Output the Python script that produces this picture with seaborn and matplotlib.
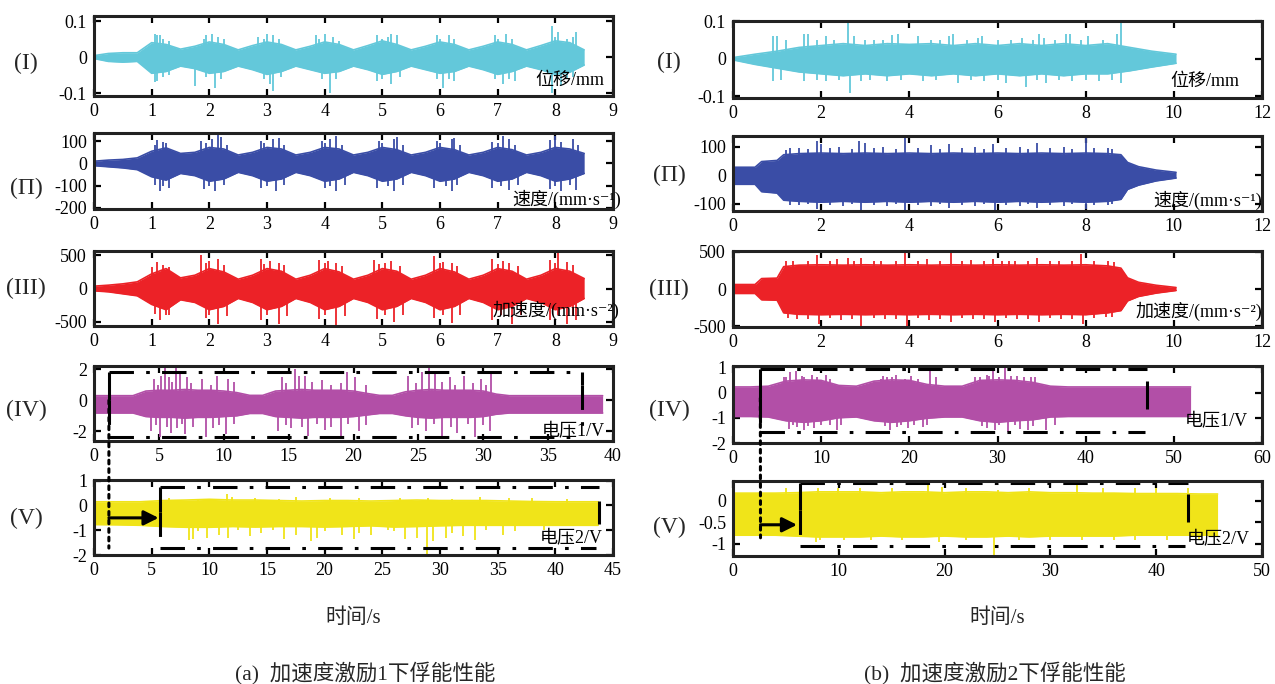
import pandas as pd
import matplotlib
matplotlib.use('Agg')
import matplotlib.pyplot as plt
from matplotlib.patches import ConnectionPatch
import seaborn as sns

sns.set_theme(style='ticks')
plt.rcParams['font.family'] = ['Liberation Serif', 'Noto Sans CJK SC', 'DejaVu Serif', 'DejaVu Sans']
plt.rcParams['axes.unicode_minus'] = False

# colours of the five signals
c_disp = '#63C8DA'
c_vel = '#3A4DA6'
c_acc = '#EC2227'
c_v1 = '#B24FA7'
c_v2 = '#F0E419'

row_names = ['(I)', '(Π)', '(III)', '(IV)', '(V)']
units = ['位移/mm', '速度/(mm·s⁻¹)', '加速度/(mm·s⁻²)', '电压1/V', '电压2/V']

# ---------------- (a) excitation 1 ----------------
t_a = [0, 0.25, 0.5, 0.75, 1.0, 1.25, 1.5, 1.75, 2.0, 2.25, 2.5, 2.75, 3.0, 3.25, 3.5, 3.75, 4.0, 4.25,
       4.5, 4.75, 5.0, 5.25, 5.5, 5.75, 6.0, 6.25, 6.5, 6.75, 7.0, 7.25, 7.5, 7.75, 8.0, 8.25, 8.5]
disp_a_hi = [0.004, 0.010, 0.012, 0.012, 0.040, 0.035, 0.022, 0.030, 0.042, 0.035, 0.020, 0.032,
             0.042, 0.035, 0.020, 0.030, 0.042, 0.035, 0.020, 0.032, 0.045, 0.035, 0.020, 0.030,
             0.042, 0.035, 0.020, 0.030, 0.042, 0.035, 0.020, 0.032, 0.045, 0.040, 0.020]
disp_a_lo = [-0.004, -0.012, -0.014, -0.012, -0.045, -0.040, -0.025, -0.032, -0.045, -0.040, -0.025, -0.035,
             -0.048, -0.040, -0.025, -0.035, -0.045, -0.040, -0.025, -0.035, -0.048, -0.040, -0.025, -0.035,
             -0.045, -0.040, -0.025, -0.035, -0.048, -0.040, -0.025, -0.035, -0.048, -0.042, -0.022]
disp_a_spk_t = [1.05, 1.1, 1.15, 1.05, 1.1, 1.75, 1.95, 2.05, 2.1, 2.85, 3.0, 3.1, 3.05, 3.1, 3.85, 4.0,
                4.1, 4.9, 5.15, 5.25, 4.9, 5.15, 5.95, 6.15, 6.05, 6.25, 6.95, 7.15, 7.1, 7.3, 7.95,
                8.05, 8.35, 7.95, 8.1,
                1.2, 1.3, 1.9, 2.15, 2.25, 2.95, 3.2, 3.9, 4.15, 4.25, 5.0, 5.1, 6.0, 6.25, 7.0, 7.25,
                8.0, 8.2, 8.3,
                1.2, 1.3, 1.95, 2.2, 2.95, 3.25, 3.95, 4.2, 5.0, 5.3, 5.95, 6.15, 6.95, 7.2, 8.2, 8.3]
disp_a_spk_v = [0.065, 0.06, 0.06, -0.07, -0.065, -0.08, 0.06, 0.065, -0.085, 0.055, 0.065, 0.06, -0.075,
                -0.095, 0.06, 0.065, -0.1, 0.06, 0.065, 0.06, -0.065, -0.075, 0.06, 0.06, -0.085, -0.065,
                0.06, 0.065, -0.075, -0.065, 0.085, 0.07, 0.07, -0.1, -0.08,
                0.05, 0.045, 0.05, 0.055, 0.05, 0.05, 0.05, 0.05, 0.055, 0.045, 0.05, 0.055, 0.05, 0.05,
                0.05, 0.05, 0.055, 0.05, 0.055,
                -0.055, -0.05, -0.055, -0.06, -0.06, -0.055, -0.06, -0.06, -0.06, -0.055, -0.06, -0.06,
                -0.06, -0.06, -0.06, -0.055]

vel_a_hi = [10, 15, 18, 25, 55, 70, 45, 50, 72, 65, 38, 50, 72, 65, 38, 50, 72, 65, 38, 50,
            72, 62, 38, 50, 72, 62, 38, 50, 72, 62, 38, 50, 72, 65, 45]
vel_a_lo = [-10, -15, -20, -28, -60, -75, -45, -55, -80, -70, -40, -55, -80, -70, -40, -55, -80, -70,
            -40, -55, -80, -70, -40, -55, -80, -70, -40, -55, -80, -70, -40, -55, -80, -70, -45]
vel_a_spk_t = [1.1, 1.2, 1.85, 2.05, 2.15, 2.2, 2.9, 3.1, 3.2, 3.95, 4.1, 4.2, 4.95, 5.2, 5.25, 5.95,
               6.2, 6.25, 6.9, 7.1, 7.2, 7.9, 8.0, 8.3,
               1.15, 1.3, 1.9, 2.1, 2.9, 3.15, 4.0, 4.2, 4.9, 5.2, 5.9, 6.2, 6.9, 7.2, 7.9, 8.1, 8.35,
               1.05, 1.25, 1.95, 2.3, 2.95, 3.3, 4.0, 4.3, 5.0, 5.35, 6.0, 6.35, 7.0, 7.3, 8.1, 8.4,
               1.05, 1.2, 2.0, 2.25, 3.0, 3.3, 4.1, 4.35, 5.1, 5.35, 6.1, 6.3, 7.05, 7.35, 8.0, 8.25]
vel_a_spk_v = [105, 95, 100, 110, 130, 120, 100, 110, 115, 100, 110, 125, 100, 110, 120, 100,
               110, 115, 95, 125, 110, 105, 125, 110,
               -125, -110, -115, -125, -110, -125, -110, -125, -110, -125, -110, -125, -110, -120,
               -115, -125, -120,
               85, 90, 90, 85, 90, 85, 90, 85, 90, 85, 90, 85, 90, 85, 95, 85,
               -95, -100, -100, -95, -100, -95, -100, -95, -100, -95, -100, -95, -100, -95, -100, -95]

acc_a_hi = [35, 50, 70, 100, 220, 300, 160, 200, 300, 250, 140, 200, 300, 260, 140, 200, 300, 250,
            140, 200, 300, 260, 140, 200, 300, 250, 140, 200, 300, 260, 140, 200, 300, 260, 150]
acc_a_lo = [-35, -50, -80, -110, -240, -320, -170, -210, -320, -270, -150, -210, -320, -270, -150, -210,
            -320, -270, -150, -210, -320, -270, -150, -210, -320, -270, -150, -210, -320, -270, -150,
            -210, -320, -270, -150]
acc_a_spk_t = [1.1, 1.3, 1.85, 2.0, 2.15, 2.9, 3.05, 3.2, 3.9, 4.05, 4.2, 4.85, 5.05, 5.15, 5.9, 6.05,
               6.2, 6.9, 7.1, 7.2, 7.9, 8.05, 8.2,
               1.15, 1.3, 1.95, 2.15, 2.9, 3.2, 3.9, 4.2, 4.9, 5.2, 5.9, 6.2, 6.9, 7.25, 7.9, 8.2, 8.35,
               1.0, 1.2, 1.95, 2.25, 2.95, 3.3, 4.0, 4.3, 4.95, 5.3, 6.0, 6.3, 7.0, 7.35, 8.0, 8.3,
               1.05, 1.25, 2.0, 2.3, 3.0, 3.35, 4.0, 4.35, 5.05, 5.35, 6.05, 6.35, 7.05, 7.4, 8.05, 8.3]
acc_a_spk_v = [400, 330, 500, 420, 450, 450, 420, 380, 430, 420, 380, 430, 380, 420, 490, 400,
               380, 440, 420, 390, 430, 540, 400,
               -470, -400, -450, -540, -470, -540, -460, -560, -460, -500, -450, -520, -470, -540,
               -470, -540, -470,
               330, 350, 380, 360, 370, 350, 380, 340, 370, 340, 380, 340, 370, 340, 380, 350,
               -380, -400, -400, -420, -400, -420, -400, -420, -400, -400, -400, -400, -400, -400,
               -400, -400]

t_v1a = [0, 1, 2, 3, 4, 5, 6, 7, 8, 9, 10, 11, 12, 13, 14, 15, 16, 17, 18, 19, 20, 21, 22, 23, 24,
         25, 26, 27, 28, 29, 30, 31, 32, 33, 34, 35, 36, 37, 38, 39.2]
v1_a_hi = [0.3, 0.3, 0.3, 0.3, 0.6, 0.65, 0.65, 0.7, 0.65, 0.65, 0.6, 0.5, 0.32, 0.32, 0.6, 0.65,
           0.7, 0.65, 0.65, 0.65, 0.6, 0.45, 0.32, 0.32, 0.55, 0.65, 0.7, 0.65, 0.65, 0.65, 0.6, 0.4,
           0.3, 0.3, 0.3, 0.3, 0.3, 0.3, 0.3, 0.3]
v1_a_lo = [-0.82, -0.82, -0.82, -0.82, -1.05, -1.1, -1.1, -1.15, -1.1, -1.1, -1.05, -1.0, -0.85, -0.85,
           -1.05, -1.1, -1.15, -1.1, -1.1, -1.1, -1.05, -0.95, -0.85, -0.85, -1.0, -1.1, -1.15, -1.1,
           -1.1, -1.1, -1.05, -0.9, -0.82, -0.82, -0.82, -0.82, -0.82, -0.82, -0.82, -0.82]
v1_a_spk_t = [4.6, 5.2, 5.5, 5.8, 6.3, 6.6, 7.2, 8.3, 9.5, 10.3, 14.5, 15.5, 15.8, 16.3, 17.6, 19.5,
              20.1, 24.2, 25.3, 25.8, 26.3, 27.4, 28.5, 29.8, 30.6,
              4.4, 5.1, 5.9, 6.4, 7.0, 8.6, 9.2, 10.2, 14.2, 15.2, 16.5, 17.8, 19.0, 20.4, 24.5, 25.6,
              26.8, 28.0, 29.4, 30.5,
              4.9, 6.0, 7.5, 9.0, 10.8, 14.8, 16.8, 18.3, 19.0, 21.0, 24.8, 26.8, 27.8, 29.2, 30.2,
              4.8, 5.6, 6.8, 7.6, 9.6, 10.8, 14.8, 16.0, 17.2, 18.3, 19.6, 21.0, 25.0, 26.2, 27.5,
              28.8, 30.0]
v1_a_spk_v = [1.4, 1.6, 2.1, 1.5, 2.1, 1.8, 1.5, 1.4, 1.6, 1.4, 1.5, 2.0, 1.6, 1.6, 1.3, 1.8,
              1.5, 1.6, 1.8, 2.2, 1.8, 1.5, 1.6, 1.4, 1.7,
              -2.0, -2.4, -2.1, -1.8, -2.2, -2.4, -1.8, -2.2, -2.0, -1.8, -2.3, -1.9, -2.4, -2.0, -1.8,
              -2.0, -2.4, -2.1, -2.4, -2.0,
              1.0, 1.2, 1.1, 1.0, 1.2, 1.1, 1.2, 1.0, 1.1, 1.0, 1.1, 1.2, 1.0, 1.1, 1.0,
              -1.6, -1.7, -1.5, -1.7, -1.6, -1.5, -1.6, -1.7, -1.5, -1.7, -1.5, -1.6, -1.6, -1.5, -1.7,
              -1.5, -1.6]

t_v2a = [0, 2, 4, 6, 8, 10, 12, 14, 16, 18, 20, 22, 24, 26, 28, 30, 32, 34, 36, 38, 40, 42, 43.7]
v2_a_hi = [0.15, 0.15, 0.15, 0.2, 0.22, 0.25, 0.22, 0.22, 0.2, 0.18, 0.2, 0.2, 0.18, 0.2, 0.22, 0.2,
           0.2, 0.2, 0.18, 0.16, 0.15, 0.15, 0.15]
v2_a_lo = [-0.77, -0.78, -0.8, -0.85, -0.88, -0.88, -0.85, -0.87, -0.85, -0.85, -0.87, -0.85, -0.82,
           -0.87, -0.85, -0.82, -0.8, -0.8, -0.8, -0.8, -0.8, -0.8, -0.8]
v2_a_spk_t = [8.2, 8.6, 9.8, 10.8, 11.6, 13.5, 16.5, 17.5, 18.8, 19.3, 21.5, 22.5, 24.0, 27.0, 28.0,
              28.9, 29.4, 30.5, 32.0, 33.0, 35.5,
              11.5, 12.0, 17.5, 20.5, 26.5, 29.0, 33.5, 38.0,
              9.0, 12.5, 14.5, 15.5, 20.0, 23.0, 25.5, 26.0, 31.0, 34.0, 36.5, 39.0,
              6.5, 9.0, 14.0, 16.0, 23.0, 31.0, 36.0, 41.0]
v2_a_spk_v = [-1.4, -1.35, -1.3, -1.2, -1.3, -1.25, -1.35, -1.2, -1.45, -1.3, -1.2, -1.35, -1.2, -1.35,
              -1.3, -1.95, -1.45, -1.3, -1.25, -1.4, -1.2,
              0.45, 0.35, 0.35, 0.3, 0.3, 0.32, 0.35, 0.3,
              -1.05, -1.0, -1.1, -1.0, -1.05, -1.1, -1.0, -1.05, -1.1, -1.0, -1.05, -1.0,
              0.3, 0.28, 0.3, 0.28, 0.3, 0.28, 0.3, 0.28]

# ---------------- (b) excitation 2 ----------------
t_b1 = [0, 0.5, 1, 1.5, 2, 2.5, 3, 3.5, 4, 4.5, 5, 5.5, 6, 6.5, 7, 7.5, 8, 8.5, 9, 9.5, 10.05]
disp_b_hi = [0.003, 0.012, 0.02, 0.03, 0.035, 0.04, 0.035, 0.04, 0.038, 0.04, 0.035, 0.04, 0.035,
             0.04, 0.035, 0.04, 0.035, 0.04, 0.03, 0.02, 0.012]
disp_b_lo = [-0.003, -0.015, -0.025, -0.035, -0.04, -0.045, -0.04, -0.045, -0.04, -0.045, -0.04,
             -0.045, -0.04, -0.045, -0.04, -0.045, -0.04, -0.04, -0.032, -0.022, -0.012]
disp_b_spk_t = [0.9, 1.0, 1.6, 1.7, 2.1, 2.6, 2.75, 3.0, 3.6, 3.75, 4.2, 4.9, 5.0, 5.55, 5.65, 6.0,
                6.55, 6.95, 7.05, 7.55, 7.65, 8.05, 8.7, 8.8,
                0.9, 1.6, 2.1, 2.65, 2.9, 3.5, 4.3, 5.1, 5.7, 6.2, 6.65, 7.1, 7.7, 8.3, 8.8,
                1.2, 1.9, 2.3, 3.2, 3.4, 4.5, 4.7, 5.3, 6.3, 6.8, 7.3, 7.9, 8.4,
                1.1, 1.9, 2.4, 3.1, 3.8, 4.6, 5.4, 6.0, 6.9, 7.4, 8.0, 8.6]
disp_b_spk_v = [0.06, 0.06, 0.065, 0.065, 0.06, 0.095, 0.06, 0.05, 0.062, 0.065, 0.06, 0.06, 0.065,
                0.055, 0.06, 0.05, 0.055, 0.065, 0.055, 0.065, 0.065, 0.06, 0.065, 0.1,
                -0.06, -0.06, -0.06, -0.09, -0.06, -0.06, -0.06, -0.065, -0.06, -0.065, -0.075, -0.065,
                -0.06, -0.06, -0.065,
                0.05, 0.05, 0.05, 0.05, 0.05, 0.05, 0.05, 0.05, 0.05, 0.05, 0.05, 0.05, 0.05,
                -0.055, -0.055, -0.055, -0.055, -0.055, -0.055, -0.055, -0.055, -0.055, -0.055, -0.055,
                -0.055]

t_b2 = [0, 0.5, 0.65, 1.0, 1.15, 1.5, 2, 2.5, 3, 3.5, 4, 4.5, 5, 5.5, 6, 6.5, 7, 7.5, 8, 8.5, 8.8,
        8.95, 9.2, 9.6, 10.05]
vel_b_hi = [28, 28, 48, 52, 72, 76, 78, 76, 78, 76, 78, 76, 78, 76, 78, 76, 78, 76, 78, 76, 72, 45,
            30, 18, 10]
vel_b_lo = [-32, -32, -58, -63, -88, -92, -95, -92, -95, -92, -95, -92, -95, -92, -95, -92, -95, -92,
            -95, -92, -85, -50, -35, -20, -10]
vel_b_spk_t = [1.9, 2.85, 3.9, 4.9, 5.9, 6.9, 8.0, 1.5, 2.4, 3.4, 4.5, 5.5, 6.5, 7.5, 8.5, 1.2, 2.0,
               3.0,
               1.9, 2.9, 3.9, 4.9, 5.95, 6.9, 8.0, 1.5, 2.5, 3.5, 4.5, 5.5, 6.5, 7.5, 8.5,
               1.3, 1.7, 2.2, 2.7, 3.2, 3.7, 4.2, 4.7, 5.2, 5.7, 6.2, 6.7, 7.2, 7.7, 8.2, 8.6,
               1.3, 1.7, 2.2, 2.7, 3.2, 3.7, 4.2, 4.7, 5.2, 5.7, 6.2, 6.7, 7.2, 7.7, 8.2, 8.6]
vel_b_spk_v = [120, 120, 130, 110, 110, 115, 130, 95, 100, 100, 105, 100, 100, 100, 95, 90, 110, 115,
               -120, -125, -125, -115, -125, -115, -120, -105, -110, -110, -110, -110, -110, -110,
               -105,
               95, 92, 95, 92, 95, 92, 95, 92, 95, 92, 95, 92, 95, 92, 95, 92,
               -105, -102, -105, -102, -105, -102, -105, -102, -105, -102, -105, -102, -105, -102,
               -105, -102]

acc_b_hi = [60, 60, 140, 146, 300, 320, 325, 320, 325, 320, 325, 320, 325, 320, 325, 320, 325, 320,
            325, 310, 280, 150, 90, 50, 20]
acc_b_lo = [-60, -60, -145, -150, -320, -340, -345, -340, -345, -340, -345, -340, -345, -340, -345,
            -340, -345, -340, -345, -320, -290, -160, -100, -55, -20]
acc_b_spk_t = [1.9, 2.9, 3.9, 4.95, 5.9, 6.9, 7.9, 1.35, 2.35, 3.35, 4.4, 5.4, 6.4, 7.4, 8.5, 2.6, 6.1,
               1.95, 2.9, 3.95, 4.95, 5.95, 6.95, 7.95, 1.45, 2.45, 3.45, 4.45, 5.45, 6.45, 7.45, 8.45,
               1.2, 1.7, 2.2, 2.75, 3.2, 3.7, 4.2, 4.7, 5.2, 5.7, 6.25, 6.7, 7.2, 7.7, 8.2, 8.65,
               1.25, 1.7, 2.2, 2.7, 3.2, 3.7, 4.2, 4.7, 5.2, 5.7, 6.2, 6.7, 7.2, 7.7, 8.2, 8.6]
acc_b_spk_v = [460, 410, 480, 480, 400, 420, 470, 380, 400, 380, 400, 390, 380, 380, 370, 420, 380,
               -470, -490, -500, -440, -440, -440, -470, -400, -420, -400, -420, -400, -400, -400, -380,
               370, 380, 370, 380, 370, 380, 370, 380, 370, 380, 370, 380, 370, 380, 370, 360,
               -390, -400, -390, -400, -390, -400, -390, -400, -390, -400, -390, -400, -390, -400, -390,
               -380]

t_v1b = [0, 2, 4, 6, 8, 10, 12, 14, 16, 18, 20, 22, 24, 26, 28, 30, 32, 34, 36, 38, 40, 42, 44, 46,
         48, 50, 51.9]
v1_b_hi = [0.22, 0.22, 0.25, 0.45, 0.5, 0.48, 0.28, 0.25, 0.45, 0.5, 0.48, 0.32, 0.25, 0.25, 0.48,
           0.5, 0.48, 0.4, 0.25, 0.22, 0.22, 0.22, 0.22, 0.22, 0.22, 0.22, 0.22]
v1_b_lo = [-0.95, -0.95, -0.97, -1.12, -1.18, -1.12, -1.0, -0.97, -1.12, -1.18, -1.12, -1.02, -0.97,
           -0.97, -1.12, -1.18, -1.12, -1.08, -0.97, -0.95, -0.95, -0.95, -0.95, -0.95, -0.95, -0.95,
           -0.95]
v1_b_spk_t = [5.8, 6.5, 7.2, 8.1, 9.0, 10.5, 16.8, 17.5, 18.5, 19.5, 22.3, 23.0, 28.0, 28.8, 29.5,
              30.8, 31.5, 33.0, 34.2,
              6.4, 7.3, 8.0, 9.2, 11.8, 12.3, 17.8, 18.6, 19.8, 21.5, 28.8, 29.7, 31.2, 32.5, 33.5,
              35.5,
              6.0, 7.8, 9.5, 11.0, 17.0, 18.0, 20.2, 21.0, 27.5, 29.0, 30.2, 32.2, 33.8,
              6.8, 8.5, 10.0, 11.0, 17.2, 19.0, 20.5, 22.0, 28.2, 30.2, 32.0, 34.0, 36.5]
v1_b_spk_v = [0.6, 0.8, 0.85, 0.6, 0.7, 0.7, 0.55, 0.6, 0.7, 0.55, 1.05, 0.6, 0.6, 0.7, 0.85, 1.05,
              0.65, 0.6, 0.6,
              -1.45, -1.35, -1.5, -1.4, -1.5, -1.3, -1.5, -1.35, -1.4, -1.35, -1.4, -1.5, -1.55, -1.45,
              -1.5, -1.5,
              0.6, 0.65, 0.6, 0.55, 0.65, 0.6, 0.65, 0.55, 0.6, 0.65, 0.6, 0.65, 0.6,
              -1.3, -1.32, -1.28, -1.3, -1.32, -1.28, -1.3, -1.28, -1.32, -1.3, -1.28, -1.32, -1.28]

t_v2b = [0, 2, 4, 6, 8, 10, 12, 14, 16, 18, 20, 22, 24, 26, 28, 30, 32, 34, 36, 38, 40, 42, 44, 45.8]
v2_b_hi = [0.17, 0.17, 0.17, 0.18, 0.2, 0.2, 0.2, 0.18, 0.2, 0.2, 0.18, 0.2, 0.2, 0.18, 0.2, 0.18,
           0.18, 0.17, 0.17, 0.16, 0.16, 0.16, 0.15, 0.15]
v2_b_lo = [-0.8, -0.8, -0.8, -0.82, -0.84, -0.84, -0.84, -0.82, -0.84, -0.84, -0.82, -0.84, -0.84,
           -0.82, -0.84, -0.82, -0.82, -0.82, -0.82, -0.8, -0.8, -0.8, -0.8, -0.8]
v2_b_spk_t = [9.9, 12.0, 18.4, 19.8, 25.0, 32.5, 40.0,
              7.8, 8.2, 19.5, 24.7, 30.0, 36.0, 41.0,
              5.0, 8.0, 15.0, 22.0, 28.0, 35.0, 38.0, 43.0,
              10.5, 13.0, 16.0, 22.0, 27.0, 33.0, 38.0, 44.0]
v2_b_spk_v = [0.3, 0.3, 0.4, 0.32, 0.25, 0.48, 0.28,
              -0.95, -0.92, -0.95, -1.25, -0.92, -0.92, -0.9,
              0.28, 0.28, 0.28, 0.28, 0.28, 0.28, 0.28, 0.28,
              -0.92, -0.92, -0.92, -0.92, -0.92, -0.92, -0.92, -0.92]

# axis ranges / ticks
xt_a = [list(range(0, 10)), list(range(0, 10)), list(range(0, 10)), list(range(0, 45, 5)), list(range(0, 50, 5))]
xl_a = [(0, 9), (0, 9), (0, 9), (0, 40), (0, 45)]
yt_a = [[-0.1, 0, 0.1], [-200, -100, 0, 100], [-500, 0, 500], [-2, 0, 2], [-2, -1, 0, 1]]
ylab_a = [['-0.1', '0', '0.1'], ['-200', '-100', '0', '100'], ['-500', '0', '500'], ['-2', '0', '2'],
          ['-2', '-1', '0', '1']]
yl_a = [(-0.108, 0.114), (-205, 137), (-565, 565), (-2.63, 2.22), (-2.0, 1.03)]

xt_b = [list(range(0, 14, 2)), list(range(0, 14, 2)), list(range(0, 14, 2)), list(range(0, 70, 10)),
        list(range(0, 60, 10))]
xl_b = [(0, 12), (0, 12), (0, 12), (0, 60), (0, 50)]
yt_b = [[-0.1, 0, 0.1], [-100, 0, 100], [-500, 0, 500], [-2, -1, 0, 1], [-1, -0.5, 0]]
ylab_b = [['-0.1', '0', '0.1'], ['-100', '0', '100'], ['-500', '0', '500'], ['-2', '-1', '0', '1'],
          ['-1', '-0.5', '0']]
yl_b = [(-0.104, 0.1), (-126, 138), (-510, 510), (-2.0, 1.05), (-1.28, 0.45)]

W, H = 1275, 684
fig = plt.figure(figsize=(W / 100, H / 100), dpi=100)


def make_ax(l, r, t, b):
    return fig.add_axes([l / W, 1 - b / H, (r - l) / W, (b - t) / H])


def draw_signal(ax, t, hi, lo, spk_t, spk_v, color):
    df = pd.DataFrame({'t': t, 'hi': hi, 'lo': lo})
    ax.fill_between(df['t'], df['lo'], df['hi'], color=color, lw=0)
    sns.lineplot(data=df, x='t', y='hi', ax=ax, color=color, lw=1.2)
    sns.lineplot(data=df, x='t', y='lo', ax=ax, color=color, lw=1.2)
    ax.vlines(spk_t, 0, spk_v, color=color, lw=1.3)
    ax.set(xlabel='', ylabel='')


def style_ax(ax, xl, xt, yl, yt, ylab):
    ax.set_xlim(xl)
    ax.set_ylim(yl)
    ax.set_xticks(xt)
    ax.set_xticklabels([str(v) for v in xt])
    ax.set_yticks(yt)
    ax.set_yticklabels(ylab)
    ax.tick_params(direction='in', top=True, right=True, length=5, width=1.6,
                   labelsize=13, pad=5, colors='black')
    for s in ax.spines.values():
        s.set_linewidth(2.2)
        s.set_color('#222222')


rows_a = [(16, 96), (133, 209), (251, 326), (366, 441), (480, 555)]
rows_b = [(21, 98), (136, 211), (251, 327), (366, 443), (481, 556)]
lab_y_a = [63, 188, 288, 410, 518]
lab_y_b = [62, 175, 289, 410, 527]
unit_pos_a = [(0.984, 0.2), (1.016, 0.12), (1.012, 0.21), (0.985, 0.12), (0.98, 0.22)]
unit_pos_b = [(0.957, 0.21), (1.0, 0.14), (1.0, 0.2), (0.973, 0.27), (0.977, 0.22)]

sig_a = [(t_a, disp_a_hi, disp_a_lo, disp_a_spk_t, disp_a_spk_v, c_disp),
         (t_a, vel_a_hi, vel_a_lo, vel_a_spk_t, vel_a_spk_v, c_vel),
         (t_a, acc_a_hi, acc_a_lo, acc_a_spk_t, acc_a_spk_v, c_acc),
         (t_v1a, v1_a_hi, v1_a_lo, v1_a_spk_t, v1_a_spk_v, c_v1),
         (t_v2a, v2_a_hi, v2_a_lo, v2_a_spk_t, v2_a_spk_v, c_v2)]
sig_b = [(t_b1, disp_b_hi, disp_b_lo, disp_b_spk_t, disp_b_spk_v, c_disp),
         (t_b2, vel_b_hi, vel_b_lo, vel_b_spk_t, vel_b_spk_v, c_vel),
         (t_b2, acc_b_hi, acc_b_lo, acc_b_spk_t, acc_b_spk_v, c_acc),
         (t_v1b, v1_b_hi, v1_b_lo, v1_b_spk_t, v1_b_spk_v, c_v1),
         (t_v2b, v2_b_hi, v2_b_lo, v2_b_spk_t, v2_b_spk_v, c_v2)]

axes_a, axes_b = [], []
for col, (l, r, rows, sigs, xls, xts, yls, yts, ylabs, laby, ups, labx) in enumerate([
        (94, 613, rows_a, sig_a, xl_a, xt_a, yl_a, yt_a, ylab_a, lab_y_a, unit_pos_a, 26),
        (733, 1262, rows_b, sig_b, xl_b, xt_b, yl_b, yt_b, ylab_b, lab_y_b, unit_pos_b, 669)]):
    for i in range(5):
        ax = make_ax(l, r, rows[i][0], rows[i][1])
        draw_signal(ax, *sigs[i])
        style_ax(ax, xls[i], xts[i], yls[i], yts[i], ylabs[i])
        ax.text(ups[i][0], ups[i][1], units[i], transform=ax.transAxes, ha='right', va='center',
                fontsize=13, color='black')
        fig.text(labx / W, 1 - laby[i] / H, row_names[i], ha='center', va='center', fontsize=17)
        (axes_a if col == 0 else axes_b).append(ax)

# dash-dot frames, arrows and dotted guides
dashdot = (0, (8, 4, 1.2, 4))
dot = (0, (1.2, 1.6))
kw = dict(color='black', lw=2.2, solid_capstyle='butt')


def frame(ax, x0, x1, y0, y1, solid_y, right_y):
    ax.plot([x0, x1], [y1, y1], ls=dashdot, **kw)
    ax.plot([x0, x1 - 0.3], [y0, y0], ls=dashdot, **kw)
    ax.plot([x0, x0], [y1, solid_y], ls='-', **kw)
    ax.plot([x0, x0], [solid_y, y0], ls=dashdot, **kw)
    ax.plot([x1, x1], right_y, ls='-', **kw)


frame(axes_a[3], 1.15, 37.6, -2.37, 1.8, 0.0, [1.8, 1.0])
axes_a[3].plot([37.6, 37.6], [1.0, -2.37], ls=dashdot, **kw)
frame(axes_a[4], 5.72, 43.8, -1.72, 0.75, -0.28, [0.2, -0.75])
frame(axes_b[3], 3.1, 47.0, -1.56, 0.93, -0.22, [0.45, -0.65])
frame(axes_b[4], 6.33, 43.0, -1.06, 0.4, -0.22, [0.15, -0.5])

for ax_up, ax_dn, p_up, p_dn, y_arrow, x_head in [
        (axes_a[3], axes_a[4], (1.15, 0.0), (1.29, -1.72), -0.5, 5.6),
        (axes_b[3], axes_b[4], (3.1, -0.22), (2.6, -0.86), -0.56, 6.05)]:
    con = ConnectionPatch(xyA=p_up, coordsA=ax_up.transData, xyB=p_dn, coordsB=ax_dn.transData,
                          ls=dot, lw=2.2, color='black')
    fig.add_artist(con)
    ax_dn.annotate('', xy=(x_head, y_arrow), xytext=(p_dn[0], y_arrow),
                   arrowprops=dict(arrowstyle='-|>', lw=2.2, color='black', mutation_scale=22,
                                   shrinkA=0, shrinkB=0))

fig.text(353 / W, 1 - 618 / H, '时间/s', ha='center', va='center', fontsize=15)
fig.text(997 / W, 1 - 618 / H, '时间/s', ha='center', va='center', fontsize=15)
fig.text(365 / W, 1 - 673 / H, '(a)  加速度激励1下俘能性能', ha='center', va='center', fontsize=15.5)
fig.text(995 / W, 1 - 673 / H, '(b)  加速度激励2下俘能性能', ha='center', va='center', fontsize=15.5)

fig.savefig('out.png', dpi=100)
